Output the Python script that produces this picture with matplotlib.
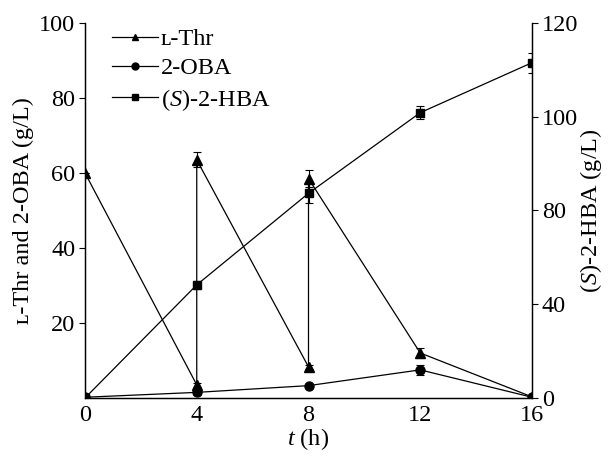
import matplotlib
matplotlib.use('Agg')
import matplotlib.pyplot as plt
from matplotlib.lines import Line2D

plt.rcParams['font.family'] = ['Liberation Serif', 'DejaVu Serif']
plt.rcParams['mathtext.fontset'] = 'custom'
plt.rcParams['mathtext.rm'] = 'Liberation Serif'
plt.rcParams['mathtext.it'] = 'Liberation Serif:italic'
plt.rcParams['font.size'] = 17.5

# L-Thr is fed at 4 h and 8 h, so those times appear twice (before / after feeding)
thr_t = [0, 4, 4, 8, 8, 12, 16]
thr_val = [60.0, 3.5, 63.5, 8.3, 58.5, 12.0, 0.3]
thr_err = [0, 0.6, 2.0, 0.6, 2.2, 1.3, 0]

oba_t = [0, 4, 8, 12, 16]
oba_val = [0.2, 1.5, 3.3, 7.5, 0.2]
oba_err = [0, 0.6, 0.4, 1.4, 0]

hba_t = [0, 4, 8, 12, 16]
hba_val = [0.0, 36.2, 65.5, 91.3, 107.3]
hba_err = [0, 1.3, 3.2, 2.1, 3.2]

labels = ['\u029f-Thr', '2-OBA', '($\\mathit{S}$)-2-HBA']
markers = ['^', 'o', 's']

x_ticks = [0, 4, 8, 12, 16]
left_ticks = [20, 40, 60, 80, 100]
right_ticks = [0, 30, 60, 90, 120]
right_labels = ['0', '40', '80', '100', '120']

fig = plt.figure(figsize=(6.1, 4.57), dpi=100)
ax = fig.add_axes([85 / 610, 59 / 457, 447 / 610, 375 / 457])
ax2 = ax.twinx()

style = dict(color='black', lw=0.9, elinewidth=0.8, capsize=3, capthick=0.8)
ax.errorbar(thr_t, thr_val, yerr=thr_err, marker=markers[0], ms=7, **style)
ax.errorbar(oba_t, oba_val, yerr=oba_err, marker=markers[1], ms=6.5, **style)
ax2.errorbar(hba_t, hba_val, yerr=hba_err, marker=markers[2], ms=5.5, **style)

ax.set_xlim(0, 16)
ax.set_ylim(0, 100)
ax2.set_ylim(0, 120)
ax.set_xticks(x_ticks)
ax.set_yticks(left_ticks)
ax2.set_yticks(right_ticks)
ax2.set_yticklabels(right_labels)

for a in (ax, ax2):
    a.spines['top'].set_visible(False)
    for s in a.spines.values():
        s.set_linewidth(0.9)
ax.tick_params(axis='x', length=0, pad=5)
ax.tick_params(axis='y', length=4, width=0.8, pad=3)
ax2.tick_params(axis='y', length=4, width=0.8, pad=3)

ax.set_xlabel('$t$ (h)', labelpad=0)
ax.set_ylabel('\u029f-Thr and 2-OBA (g/L)', labelpad=4)
ax2.set_ylabel('($\\mathit{S}$)-2-HBA (g/L)', labelpad=0)

handles = [Line2D([], [], color='black', lw=0.9, marker=m, ms=5) for m in markers]
ax2.legend(handles, labels,
           loc='upper left', bbox_to_anchor=(112 / 610, 1 - 28 / 457),
           bbox_transform=fig.transFigure, frameon=False, borderpad=0,
           borderaxespad=0, handlelength=1.9, handletextpad=0.1,
           labelspacing=0.3)

fig.savefig('out.png', dpi=100)
